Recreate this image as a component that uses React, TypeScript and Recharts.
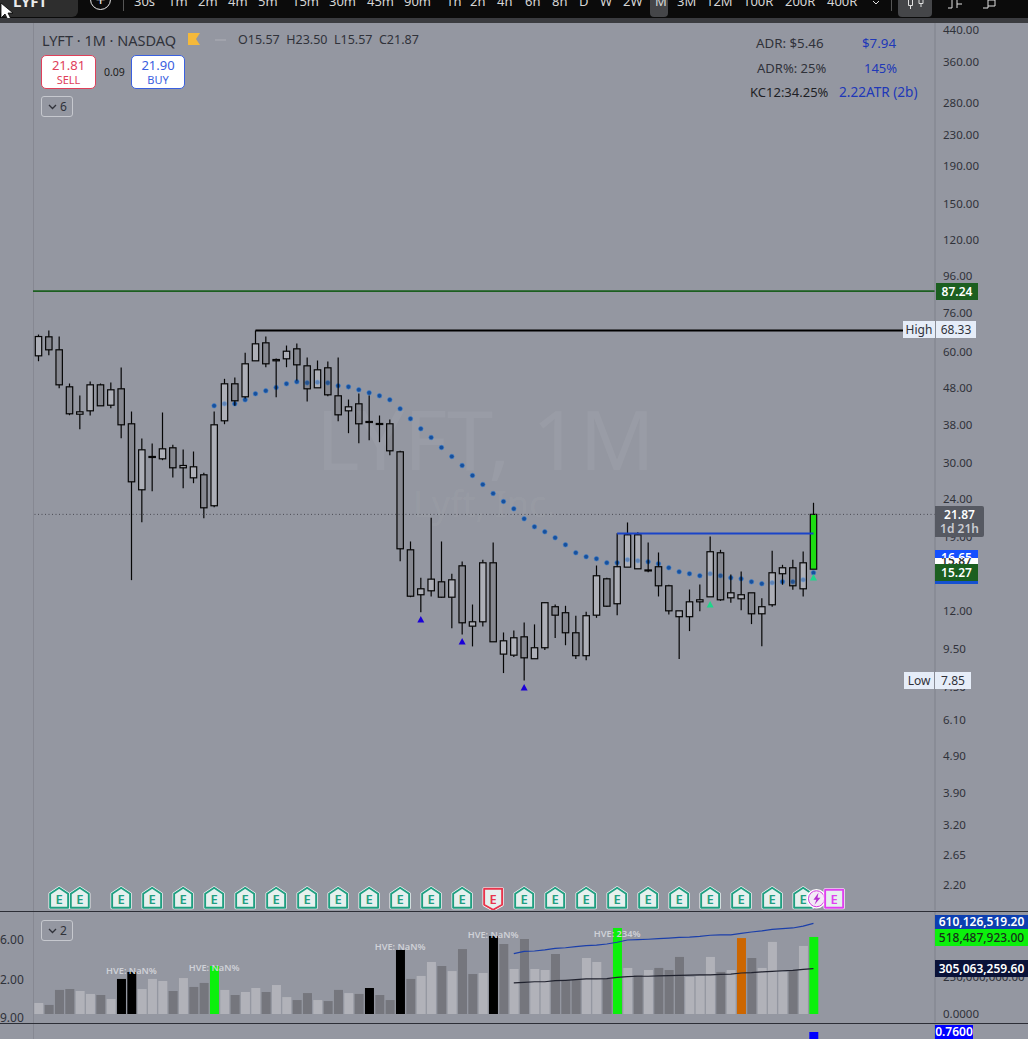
import React from 'react';
import { ComposedChart, Bar, Line, XAxis, YAxis, ReferenceLine, Cell } from 'recharts';

const highs = [66.66,68.34,65.84,49.21,45.68,49.82,49.21,49.51,54.34,41.37,35.00,33.93,41.12,33.66,32.69,32.29,28.30,41.37,50.66,51.07,59.52,68.34,65.84,57.45,62.27,63.05,57.81,56.75,56.40,57.81,44.56,46.25,45.68,40.36,39.37,32.43,18.49,14.76,21.41,18.49,15.14,16.33,12.51,16.51,18.37,10.52,10.65,11.19,11.06,12.69,12.51,12.41,11.67,11.96,15.93,14.76,19.46,20.80,19.59,18.37,17.27,14.14,12.03,13.73,14.16,19.07,17.56,15.07,15.35,13.45,13.01,17.45,16.00,16.51,17.38,23.50];
const lows = [56.50,58.64,47.80,40.43,37.07,40.36,42.86,42.23,35.06,14.55,20.84,25.25,30.60,27.49,25.72,26.53,21.36,22.87,38.24,42.86,44.84,56.64,54.44,45.20,54.44,50.13,44.02,47.92,45.49,38.96,36.17,33.99,34.63,34.21,31.56,16.36,13.09,11.93,13.15,13.04,10.80,10.39,9.65,10.92,9.93,8.18,9.03,7.81,8.94,9.43,10.16,9.72,8.92,8.86,11.52,12.31,11.71,15.77,15.61,15.29,13.15,11.76,8.92,10.61,12.00,13.12,12.80,12.65,12.08,11.08,9.66,12.34,14.14,13.71,13.15,15.57];
const opens = [58.42,65.72,60.64,48.21,40.69,41.55,48.81,43.02,47.62,38.34,25.47,31.19,30.86,33.04,29.19,27.43,27.95,23.07,39.06,49.12,45.32,56.64,63.32,56.64,57.35,61.01,54.91,47.92,54.24,45.60,41.55,43.39,38.89,38.41,38.34,32.23,17.56,13.29,13.62,14.40,13.09,15.90,10.94,11.24,16.20,9.20,9.14,10.24,8.94,9.57,12.34,11.89,10.50,9.11,11.71,14.67,12.57,15.77,15.61,15.50,15.81,14.05,11.60,11.60,12.72,13.12,17.24,13.04,12.96,13.45,11.81,12.49,15.14,15.71,13.79,15.57];
const closes = [65.84,60.64,48.81,40.79,41.29,48.81,42.86,47.33,38.10,26.76,32.63,31.31,32.83,29.19,29.61,29.37,22.78,38.10,49.12,44.21,55.60,62.93,55.60,57.10,60.11,55.25,47.62,53.57,45.88,40.53,42.59,38.34,38.74,38.26,32.43,17.67,13.17,13.79,14.64,13.09,14.58,11.17,11.24,16.20,9.93,9.99,10.18,8.99,9.57,12.65,11.71,10.50,9.11,11.67,14.95,12.38,15.81,19.27,19.27,15.45,14.05,12.03,12.03,12.72,12.88,17.35,12.88,13.45,13.29,11.81,12.34,15.23,15.71,14.05,16.20,21.87];
const bullish = [1,0,0,0,1,1,0,1,0,0,1,1,1,0,1,1,0,1,1,0,1,1,0,1,1,0,0,1,0,0,1,0,0,0,0,0,0,1,1,0,1,0,1,1,0,1,1,0,1,1,0,0,0,1,1,0,1,1,1,0,0,0,1,1,1,1,0,1,1,0,1,1,1,0,1,2];
const kcStart = 17;
const kcDots = [42.86,43.39,43.39,44.48,46.17,47.03,48.00,49.12,49.73,49.42,49.61,49.42,48.51,48.21,47.33,46.45,45.60,44.48,42.07,39.54,37.17,35.22,33.10,31.31,29.61,27.83,26.32,24.89,23.69,22.64,21.28,20.25,19.63,18.92,18.11,17.24,16.82,16.61,16.20,16.20,16.51,16.40,16.30,16.10,15.71,15.32,15.14,14.95,15.14,14.95,14.76,14.67,14.40,14.23,14.31,14.40,14.40,14.58,15.23];
const blueMarks: Record<number, number> = { 37: 11.4, 41: 9.95, 47: 7.48 };
const greenMarks: Record<number, number> = { 65: 12.51, 75: 14.8 };
const earningsBars = [2,4,8,11,14,17,20,23,26,29,32,35,38,41,44,47,50,53,56,59,62,65,68,71,74,77];
const missedBar = 44;
const futureBar = 77;
const dividendBar = 75;
const eventLevel = 2.02;
const priceTicks = [440,360,280,230,190,150,120,96,76,60,48,38,30,24,19,15,12,9.5,7.5,6.1,4.9,3.9,3.2,2.65,2.2];
const volumes = [74,61,162,168,155,135,128,101,236,283,168,236,222,155,242,182,209,323,162,128,148,175,148,195,114,94,141,94,87,162,141,135,175,128,94,431,236,256,350,323,289,437,269,276,525,471,303,505,303,296,404,229,229,377,350,236,579,310,262,296,310,296,384,249,256,384,283,296,511,377,310,485,283,296,458,518.49];
const volumeKinds = ('ldddlldlkk' + 'llldlddgld' + 'lldllddldd' + 'ldkddkdlld' + 'lddlkdldll' + 'dddlldgldl' + 'dddllldlod' + 'llldlg').split('');
const maStart = 46;
const volumeUpper = [406,422,424,431,442,446,453,460,464,471,483,498,500,503,507,511,516,518,523,530,532,532,543,552,559,570,574,579,592,610.13];
const volumeAverage = [209,213,217,217,224,227,231,236,236,238,247,251,254,254,256,258,260,262,264,264,267,269,276,278,283,287,291,294,301,305.06];
const hveBars: Record<number, [number, string]> = { 9: [296,'HVE: NaN%'], 17: [316,'HVE: NaN%'], 35: [451,'HVE: NaN%'], 44: [538,'HVE: NaN%'], 56: [545,'HVE: 234%'] };
const ratioBar = 75;
const ratioValue = 0.76;
const timeframes: [string, number][] = [['30s',134],['1m',168],['2m',198],['4m',228],['5m',258],['15m',292],['30m',329],['45m',367],['90m',404],['1h',446],['2h',470],['4h',497],['6h',525],['8h',552],['D',579],['W',600],['2W',623],['M',655],['3M',677],['12M',706],['100R',743],['200R',785],['400R',827]];

const BG = '#9497a1';
const TXT = '#30323a';
const FONT = '"Noto Sans", sans-serif';
const volColors: Record<string, string> = { l: '#b1b2b9', d: '#75767d', k: '#000000', g: '#0cf00c', o: '#cc6600' };

const rows = Array.from({ length: 87 }, (_, i) => ({
  i,
  range: i < highs.length ? [lows[i], highs[i]] : null,
  open: opens[i], close: closes[i], high: highs[i], low: lows[i], bull: bullish[i],
  kc: i >= kcStart && i < kcStart + kcDots.length ? kcDots[i - kcStart] : null,
  blue: blueMarks[i] ?? null,
  green: greenMarks[i] ?? null,
  event: earningsBars.includes(i) || i === dividendBar ? eventLevel : null,
  vol: i < volumes.length ? volumes[i] : null,
  kind: volumeKinds[i],
  upper: i >= maStart && i - maStart < volumeUpper.length ? volumeUpper[i - maStart] : null,
  avg: i >= maStart && i - maStart < volumeAverage.length ? volumeAverage[i - maStart] : null,
  hve: hveBars[i] ? hveBars[i][0] : null,
  hveText: hveBars[i] ? hveBars[i][1] : null,
  ratio: i === ratioBar ? ratioValue : null,
}));

const Candle = (p: any) => {
  const { x, y, width, height, payload } = p;
  if (!payload || payload.high == null) return null;
  const top = Math.min(y, y + height), h = Math.abs(height);
  const lg = Math.log(payload.high), span = Math.log(payload.high) - Math.log(payload.low);
  const py = (v: number) => top + (h * (lg - Math.log(v))) / span;
  const a = py(Math.max(payload.open, payload.close)), b = py(Math.min(payload.open, payload.close));
  const cx = x + width / 2;
  const fill = payload.bull === 2 ? '#1fdc14' : payload.bull ? 'rgba(215,216,222,0.38)' : 'rgba(90,90,95,0.25)';
  return (
    <g>
      <line x1={cx} x2={cx} y1={top} y2={a} stroke="#050505" strokeWidth={1.2} />
      <line x1={cx} x2={cx} y1={b} y2={top + h} stroke="#050505" strokeWidth={1.2} />
      <rect x={x} y={a} width={width} height={Math.max(b - a, 1)} fill={fill} stroke="#050505" strokeWidth={1.2} />
    </g>
  );
};

const Tri = (color: string) => (p: any) => {
  if (p.cx == null || p.cy == null || p.value == null) return <g key={p.index} />;
  return <path key={p.index} d={`M${p.cx},${p.cy - 3.5}L${p.cx + 3.5},${p.cy + 3}L${p.cx - 3.5},${p.cy + 3}Z`} fill={color} />;
};

const EventDot = (p: any) => {
  if (p.cx == null || p.cy == null || p.value == null) return <g key={p.index} />;
  const { cx, cy } = p;
  const i = p.payload.i;
  if (i === dividendBar) {
    return (
      <g key={i}>
        <circle cx={cx + 3} cy={cy} r={9} fill="#f4e9f6" stroke="#ffffff" strokeWidth={1.5} />
        <circle cx={cx + 3} cy={cy} r={8} fill="none" stroke="#d23ee0" strokeWidth={1} />
        <path d={`M${cx + 5},${cy - 6}L${cx},${cy + 1}H${cx + 3}L${cx + 1},${cy + 6}L${cx + 7},${cy - 1}H${cx + 4}Z`} fill="#b52fd0" />
      </g>
    );
  }
  const missed = i === missedBar, future = i === futureBar;
  const color = missed ? '#e8344c' : future ? '#e040f0' : '#1f9e80';
  const d = missed
    ? `M${cx - 9},${cy - 10}H${cx + 9}V${cy + 6}L${cx},${cy + 11}L${cx - 9},${cy + 6}Z`
    : future
    ? `M${cx - 9},${cy - 9}H${cx + 9}V${cy + 9}H${cx - 9}Z`
    : `M${cx},${cy - 11}L${cx + 9},${cy - 5}V${cy + 9}H${cx - 9}V${cy - 5}Z`;
  return (
    <g key={i}>
      <path d={d} fill="#e6f0ee" stroke="#ffffff" strokeWidth={3.2} strokeLinejoin="round" />
      <path d={d} fill="#e6f0ee" stroke={color} strokeWidth={1.9} strokeLinejoin="round" />
      <text x={cx} y={cy + 5} textAnchor="middle" fontSize={13} fontWeight={600} fontFamily={FONT} fill={color}>E</text>
    </g>
  );
};

const HveDot = (p: any) => {
  if (p.cx == null || p.cy == null || p.value == null) return <g key={p.index} />;
  return <text key={p.index} x={p.cx} y={p.cy + 3.5} textAnchor="middle" fontSize={9.2} fontWeight={600} fontFamily={FONT} fill="#cfd1d7">{p.payload.hveText}</text>;
};

const tick = { fontSize: 11.5, fontFamily: FONT, fill: TXT };
const box = (s: React.CSSProperties): React.CSSProperties => ({ position: 'absolute', ...s });
const Txt = ({ x, y, size = 13, color = TXT, weight = 400, children, w }: any) => (
  <div style={{ position: 'absolute', left: x, top: y, transform: 'translateY(-50%)', fontSize: size, color, fontWeight: weight, whiteSpace: 'nowrap', lineHeight: 1, width: w, textAlign: w ? 'center' : undefined }}>{children}</div>
);
const PriceTag = ({ x, y, w, h, bg, color, children, weight = 600 }: any) => (
  <div style={{ position: 'absolute', left: x, top: y, width: w, height: h, background: bg, color, fontSize: 12, fontWeight: weight, lineHeight: `${h}px`, textAlign: 'center', overflow: 'hidden', whiteSpace: 'nowrap' }}>{children}</div>
);
const chartMargin = { top: 0, right: 0, bottom: 0, left: 33 };
const xPad = { left: 0.3, right: 2.7 };
const priceDomain = [1.884, 462.4];

export default function App() {
  return (
    <div style={{ position: 'absolute', left: 0, top: 0, width: 1028, height: 1039, overflow: 'hidden', background: BG, fontFamily: FONT }}>
      {/* watermark */}
      <div style={box({ left: 316, top: 393, fontSize: 83, color: 'rgba(255,255,255,0.055)', whiteSpace: 'nowrap', lineHeight: '90px' })}>LYFT, 1M</div>
      <div style={box({ left: 413, top: 484, fontSize: 36, color: 'rgba(255,255,255,0.05)', whiteSpace: 'nowrap', lineHeight: '40px' })}>Lyft, Inc.</div>

      <div style={box({ left: 33, top: 0, width: 1, height: 1039, background: '#868892' })} />

      {/* moving-average dots, underneath the translucent candle bodies */}
      <div style={box({ left: 0, top: 0 })}>
        <ComposedChart width={1028} height={910} data={rows} margin={{ ...chartMargin, top: 22 }} barCategoryGap={0}>
          <XAxis dataKey="i" hide padding={xPad} />
          <YAxis orientation="right" width={93} scale="log" domain={priceDomain} allowDataOverflow tick={false} tickLine={false} axisLine={false} />
          <Bar dataKey="range" barSize={6.4} fill="none" isAnimationActive={false} />
          <Line dataKey="kc" stroke="none" isAnimationActive={false} connectNulls={false}
            dot={{ r: 2.3, fill: '#17509c', stroke: '#3d7fd0', strokeOpacity: 0.55, strokeWidth: 1 }} />
        </ComposedChart>
      </div>

      {/* price pane */}
      <div style={box({ left: 0, top: 0 })}>
        <ComposedChart width={1028} height={910} data={rows} margin={{ ...chartMargin, top: 22 }} barCategoryGap={0}>
          <XAxis dataKey="i" hide padding={xPad} />
          <YAxis orientation="right" width={93} scale="log" domain={priceDomain} allowDataOverflow ticks={priceTicks} interval={0}
            tickFormatter={(v: number) => v.toFixed(2)} tick={tick} tickLine={false} tickSize={0} tickMargin={8} axisLine={{ stroke: '#7f818b' }} />
          <ReferenceLine y={87.24} stroke="#1c5f20" strokeWidth={1.6} />
          <ReferenceLine y={21.87} stroke="#4a4c54" strokeDasharray="1 2.5" />
          <ReferenceLine segment={[{ x: 21, y: 68.33 }, { x: 84, y: 68.33 }]} stroke="#000000" strokeWidth={2} />
          <ReferenceLine segment={[{ x: 56, y: 19.43 }, { x: 75, y: 19.43 }]} stroke="#1a44c8" strokeWidth={2} />
          <Bar dataKey="range" barSize={6.4} isAnimationActive={false} shape={Candle} />
          <Line dataKey="blue" stroke="none" isAnimationActive={false} dot={Tri('#1a00d8')} />
          <Line dataKey="green" stroke="none" isAnimationActive={false} dot={Tri('#1ed68a')} />
          <Line dataKey="event" stroke="none" isAnimationActive={false} dot={EventDot} />
        </ComposedChart>
      </div>

      <div style={box({ left: 0, top: 911, width: 1028, height: 1, background: '#2c2e36' })} />
      <div style={box({ left: 0, top: 1023, width: 1028, height: 1, background: '#2c2e36' })} />

      {/* volume pane */}
      <div style={box({ left: 0, top: 912 })}>
        <ComposedChart width={1028} height={110} data={rows} margin={chartMargin} barCategoryGap={0}>
          <XAxis dataKey="i" hide padding={xPad} />
          <YAxis orientation="right" width={93} domain={[-53.8, 686.5]} allowDataOverflow ticks={[0, 250, 500]} interval={0}
            tickFormatter={(v: number) => (v === 0 ? '0.0000' : (v * 1e6).toLocaleString('en-US', { minimumFractionDigits: 2 }))}
            tick={tick} tickLine={false} tickSize={0} tickMargin={8} axisLine={{ stroke: '#7f818b' }} />
          <Bar dataKey="vol" barSize={9} isAnimationActive={false}>
            {rows.map((r) => <Cell key={r.i} fill={volColors[r.kind] || 'none'} />)}
          </Bar>
          <Line dataKey="upper" stroke="#1b3faa" strokeWidth={1.2} dot={false} isAnimationActive={false} />
          <Line dataKey="avg" stroke="#20222e" strokeWidth={1.2} dot={false} isAnimationActive={false} />
          <Line dataKey="hve" stroke="none" dot={HveDot} isAnimationActive={false} />
        </ComposedChart>
      </div>

      {/* lower pane */}
      <div style={box({ left: 0, top: 1024 })}>
        <ComposedChart width={1028} height={15} data={rows} margin={chartMargin} barCategoryGap={0}>
          <XAxis dataKey="i" hide padding={xPad} />
          <YAxis orientation="right" width={93} domain={[0, 1.63]} tick={false} tickLine={false} axisLine={{ stroke: '#7f818b' }} />
          <Bar dataKey="ratio" barSize={9} fill="#0000ff" isAnimationActive={false} />
        </ComposedChart>
      </div>

      {/* left clipped scale */}
      <Txt x={0} y={940} size={12}>6.00</Txt>
      <Txt x={0} y={980} size={12}>2.00</Txt>
      <Txt x={0} y={1018} size={12}>9.00</Txt>
      <div style={box({ left: 0, top: 1023, width: 33, height: 16, background: BG, borderTop: '1px solid #2c2e36' })} />

      {/* toolbar */}
      <div style={box({ left: 0, top: 0, width: 1028, height: 18, background: '#0b0b0b' })} />
      <div style={box({ left: 0, top: 18, width: 1028, height: 5, background: '#3b3c40' })} />
      <div style={box({ left: 0, top: -6, width: 78, height: 23, background: '#2e2e2e', borderRadius: 6 })} />
      <div style={box({ left: 13, top: -8, fontSize: 15, fontWeight: 700, color: '#ececec', lineHeight: '18px' })}>LYFT</div>
      <div style={box({ left: 90, top: -11, width: 19, height: 19, borderRadius: '50%', border: '1.3px solid #e8e8e8', color: '#e8e8e8', textAlign: 'center', fontSize: 17, lineHeight: '19px' })}>+</div>
      <div style={box({ left: 123, top: 0, width: 1, height: 11, background: '#555' })} />
      <div style={box({ left: 650, top: -5, width: 18, height: 22, background: '#454649', borderRadius: 4 })} />
      <div style={box({ left: 898, top: -5, width: 34, height: 22, background: '#454649', borderRadius: 4 })} />
      <div style={box({ left: 891, top: 0, width: 1, height: 11, background: '#555' })} />
      {timeframes.map(([t, x]) => (
        <div key={t} style={box({ left: x, top: -7, fontSize: 13, color: '#d6d6d6', lineHeight: '16px', whiteSpace: 'nowrap' })}>{t}</div>
      ))}
      <svg width={1028} height={18} style={box({ left: 0, top: 0 })}>
        <g stroke="#e0e0e0" fill="none" strokeWidth={1}>
          <path d="M908.5,0V5.5H912.5V0M910.5,5.5V9M919,0V3.5H923V0M921,3.5V7" />
          <path d="M948,8H952V0M957,0V8M957,4H962" />
          <path d="M983,8H988V0H995V6H988" />
          <path d="M873,1L876,4L879,1" />
        </g>
        <path d="M1,3L1,18L5,14L8,20L11,19L8,13L13,13Z" fill="#ffffff" stroke="#000" strokeWidth={0.8} />
      </svg>

      {/* header */}
      <Txt x={42} y={40} size={14.5}>LYFT · 1M · NASDAQ</Txt>
      <svg width={14} height={14} style={box({ left: 187, top: 33 })}><path d="M1,0H13L9,6L13,12H1Z" fill="#f5b93a" /></svg>
      <div style={box({ left: 215, top: 39, width: 11, height: 2, background: 'rgba(255,255,255,0.12)' })} />
      <Txt x={238} y={40} size={12.5}>O15.57&nbsp; H23.50&nbsp; L15.57&nbsp; C21.87</Txt>
      <div style={box({ left: 41, top: 55, width: 55, height: 34, boxSizing: 'border-box', background: '#fff', border: '1px solid #e0405a', borderRadius: 5 })} />
      <Txt x={41} w={55} y={65} size={13} color="#e0405a">21.81</Txt>
      <Txt x={41} w={55} y={79} size={11} color="#e0405a">SELL</Txt>
      <Txt x={104} y={72} size={10.5} color="#1c1c20">0.09</Txt>
      <div style={box({ left: 131, top: 55, width: 54, height: 34, boxSizing: 'border-box', background: '#fff', border: '1px solid #3a60e0', borderRadius: 5 })} />
      <Txt x={131} w={54} y={65} size={13} color="#3a60e0">21.90</Txt>
      <Txt x={131} w={54} y={79} size={11} color="#3a60e0">BUY</Txt>

      {[[96, '6'], [920, '2']].map(([top, n]) => (
        <div key={String(n)} style={box({ left: 41, top: top as number, width: 32, height: 21, boxSizing: 'border-box', border: '1px solid #c6c8ce', borderRadius: 3, color: TXT, fontSize: 12, lineHeight: '19px', paddingLeft: 18 })}>
          {n}
          <svg width={10} height={6} style={box({ left: 6, top: 7 })}><path d="M1,1L4.5,4.5L8,1" stroke={TXT} strokeWidth={1.3} fill="none" /></svg>
        </div>
      ))}

      {/* stats */}
      <Txt x={756} y={44} size={13.3}>ADR: $5.46</Txt>
      <Txt x={862} y={44} size={13.3} color="#2038b8">$7.94</Txt>
      <Txt x={757} y={68} size={13}>ADR%: 25%</Txt>
      <Txt x={864} y={68} size={13} color="#2038b8">145%</Txt>
      <Txt x={750} y={92} size={13} color="#1e1f25">KC12:34.25%</Txt>
      <Txt x={839} y={92} size={13.6} color="#2038b8">2.22ATR (2b)</Txt>

      {/* price tags */}
      <PriceTag x={936} y={283} w={42} h={17} bg="#1c5f20" color="#fff">87.24</PriceTag>
      <PriceTag x={903} y={321} w={32} h={17} bg="#e6edf8" color={TXT} weight={400}>High</PriceTag>
      <PriceTag x={936} y={321} w={40} h={17} bg="#e6edf8" color={TXT} weight={400}>68.33</PriceTag>
      <div style={box({ left: 935, top: 506, width: 49, height: 31, background: '#565962', borderRadius: '0 2px 2px 0' })} />
      <Txt x={935} w={49} y={515} size={12} color="#fff" weight={600}>21.87</Txt>
      <Txt x={935} w={49} y={529} size={12} color="#c9cbd1" weight={600}>1d 21h</Txt>
      <div style={box({ left: 935, top: 550, width: 43, height: 8, background: '#1450ff', color: '#fff', fontSize: 12, fontWeight: 600, lineHeight: '16px', textAlign: 'center', overflow: 'hidden' })}>16.65</div>
      <div style={box({ left: 935, top: 558, width: 43, height: 6, background: '#ffffff', color: '#333', fontSize: 12, fontWeight: 600, lineHeight: '6px', textAlign: 'center', overflow: 'hidden' })}>15.87</div>
      <div style={box({ left: 935, top: 581, width: 43, height: 3, background: '#1450d0' })} />
      <PriceTag x={935} y={564} w={43} h={17} bg="#1c5f20" color="#fff">15.27</PriceTag>
      <PriceTag x={904} y={672} w={30} h={17} bg="#e6edf8" color={TXT} weight={400}>Low</PriceTag>
      <PriceTag x={935} y={672} w={36} h={17} bg="#e6edf8" color={TXT} weight={400}>7.85</PriceTag>

      <PriceTag x={935} y={915} w={93} h={14} bg="#0d3fb0" color="#fff">610,126,519.20</PriceTag>
      <PriceTag x={935} y={929} w={93} h={17} bg="#0cf00c" color="#17301a" weight={500}>518,487,923.00</PriceTag>
      <PriceTag x={935} y={960} w={93} h={17} bg="#0a1238" color="#fff">305,063,259.60</PriceTag>
      <PriceTag x={935} y={1025} w={38} h={14} bg="#0000ff" color="#fff">0.7600</PriceTag>
    </div>
  );
}
